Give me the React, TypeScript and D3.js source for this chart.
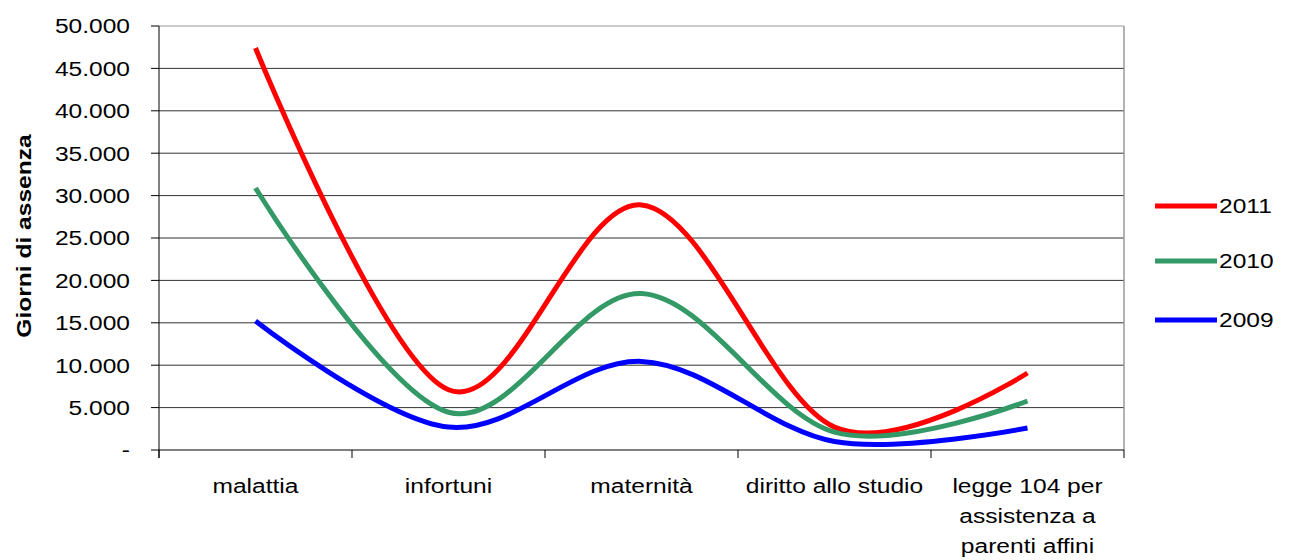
import React from "react";
import * as d3 from "d3";

const categories: string[][] = [
  ["malattia"],
  ["infortuni"],
  ["maternità"],
  ["diritto allo studio"],
  ["legge 104 per", "assistenza a", "parenti affini"],
];
const categoryKeys = ["malattia", "infortuni", "maternita", "diritto", "legge104"];

const series2011 = [47400, 7100, 28900, 2700, 9080];
const series2010 = [30900, 4450, 18450, 2100, 5780];
const series2009 = [15200, 2700, 10450, 1000, 2600];

const seriesNames = ["2011", "2010", "2009"];
const seriesColors = ["#FF0000", "#339966", "#0000FF"];
const seriesValues = [series2011, series2010, series2009];

const yTicks = [0, 5000, 10000, 15000, 20000, 25000, 30000, 35000, 40000, 45000, 50000];
const yTitle = "Giorni di assenza";

const W = 1290;
const H = 560;
const left = 159;
const right = 1124;
const top = 26;
const bottom = 450;
const font = "'Liberation Sans', Arial, sans-serif";
const FS = 21;
const SX = 1.17;

export default function App() {
  const x = d3.scaleBand<string>().domain(categoryKeys).range([left, right]).paddingInner(0).paddingOuter(0);
  const y = d3.scaleLinear().domain([0, 50000]).range([bottom, top]);
  const fmt = (v: number) => (v === 0 ? "-" : d3.format(",")(v).replace(/,/g, "."));
  const cx = (i: number) => (x(categoryKeys[i]) as number) + x.bandwidth() / 2;
  const line = d3
    .line<number>()
    .x((_, i) => cx(i))
    .y((d) => y(d))
    .curve(d3.curveCardinal.tension(0));

  const tickXs = categoryKeys.map((k) => x(k) as number).concat([right]);
  const legendYs = [206, 261, 320];

  return (
    <svg width={W} height={H} style={{ position: "absolute", left: 0, top: 0, background: "#fff" }}>
      <rect x={0} y={0} width={W} height={H} fill="#fff" />
      {/* gridlines */}
      {yTicks.filter((t) => t > 0).map((t) => (
        <line key={t} x1={left} x2={right} y1={y(t)} y2={y(t)} stroke={t === 50000 ? "#999" : "#333"} strokeWidth={1} />
      ))}
      {/* right border */}
      <line x1={right} x2={right} y1={top} y2={bottom} stroke="#999" strokeWidth={1.5} />
      {/* y axis */}
      <line x1={left} x2={left} y1={top} y2={bottom + 8} stroke="#000" strokeWidth={1} />
      {yTicks.map((t) => (
        <g key={t}>
          <line x1={left - 8} x2={left} y1={y(t)} y2={y(t)} stroke="#000" strokeWidth={1} />
          <g transform={`translate(130,${y(t)}) scale(${SX},1)`}>
            <text x={0} y={0} dy="0.35em" textAnchor="end" fontFamily={font} fontSize={FS} fill="#000">
              {fmt(t)}
            </text>
          </g>
        </g>
      ))}
      {/* x axis */}
      <line x1={left} x2={right} y1={bottom} y2={bottom} stroke="#000" strokeWidth={1} />
      {tickXs.map((tx, i) => (
        <line key={i} x1={tx} x2={tx} y1={bottom} y2={bottom + 8} stroke="#000" strokeWidth={1} />
      ))}
      {categories.map((lines, i) => (
        <g key={i} transform={`translate(${cx(i)},493) scale(${SX},1)`}>
          <text x={0} y={0} textAnchor="middle" fontFamily={font} fontSize={FS} fill="#000">
            {lines.map((l, j) => (
              <tspan key={j} x={0} y={j * 30}>
                {l}
              </tspan>
            ))}
          </text>
        </g>
      ))}
      {/* y title */}
      <g transform={`translate(31,236) rotate(-90) scale(${SX},1)`}>
        <text x={0} y={0} textAnchor="middle" fontFamily={font} fontSize={FS} fontWeight="bold" fill="#000">
          {yTitle}
        </text>
      </g>
      {/* series lines */}
      {seriesValues.map((vals, i) => (
        <path key={i} d={line(vals) || ""} fill="none" stroke={seriesColors[i]} strokeWidth={5} strokeLinejoin="round" />
      ))}
      {/* legend */}
      {seriesNames.map((n, i) => (
        <g key={n}>
          <line x1={1155} x2={1217} y1={legendYs[i]} y2={legendYs[i]} stroke={seriesColors[i]} strokeWidth={5} />
          <g transform={`translate(1219,${legendYs[i]}) scale(${SX},1)`}>
            <text x={0} y={0} dy="0.35em" fontFamily={font} fontSize={FS} fill="#000">
              {n}
            </text>
          </g>
        </g>
      ))}
    </svg>
  );
}
